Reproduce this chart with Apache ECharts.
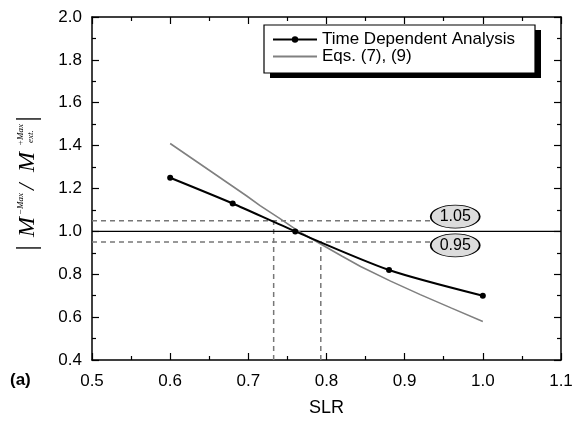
<!DOCTYPE html>
<html><head><meta charset="utf-8">
<script src="https://cdn.jsdelivr.net/npm/echarts@6/dist/echarts.min.js"></script>
<style>html,body{margin:0;padding:0;background:#fff}#c{width:583px;height:422px}</style>
</head><body><div id="c"></div>
<script>
// ---- data ----
var tdSLR   = [0.60, 0.68, 0.76, 0.88, 1.00];
var tdRatio = [1.25, 1.13, 1.00, 0.82, 0.70];
var eqSLR   = [0.600, 0.650, 0.698, 0.715, 0.740, 0.7645, 0.792, 0.820, 0.8436, 0.882, 0.920, 0.960, 1.000];
var eqRatio = [1.410, 1.285, 1.165, 1.120, 1.061, 1.000, 0.942, 0.884, 0.836, 0.768, 0.705, 0.642, 0.580];
var seriesNames = ['Time Dependent Analysis', 'Eqs. (7), (9)'];
var xTicks = [0.5, 0.6, 0.7, 0.8, 0.9, 1.0, 1.1];
var yTicks = [0.4, 0.6, 0.8, 1.0, 1.2, 1.4, 1.6, 1.8, 2.0];
var refLevels = [1.05, 1.00, 0.95];
var crossSLR = [0.7324, 0.7927];
var dashEndSLR = 0.933;
var bubbleLabels = ['1.05', '0.95'];
var bubbleSLR = 0.9647;
var bubbleRatio = [1.069, 0.935];

var chart = echarts.init(document.getElementById('c'), null, {renderer: 'canvas'});
function pairs(xs, ys){ return xs.map(function(x,i){ return [x, ys[i]]; }); }
var ellipsePath = 'path://M0 10 A10 10 0 1 1 20 10 A10 10 0 1 1 0 10 Z';
var sans = 'Liberation Sans';
var axisCommon = {
  min: xTicks[0], max: xTicks[xTicks.length - 1], interval: 0.1,
  axisLine: {lineStyle: {color: '#000', width: 1.5}},
  axisTick: {inside: true, length: 7, lineStyle: {color: '#000', width: 1.2}},
  minorTick: {show: true, splitNumber: 2, length: 4, lineStyle: {color: '#000', width: 1.2}},
  splitLine: {show: false}
};
var yCommon = {
  min: yTicks[0], max: yTicks[yTicks.length - 1], interval: 0.2,
  axisLine: {show: true, lineStyle: {color: '#000', width: 1.5}},
  axisTick: {show: true, inside: true, length: 7, lineStyle: {color: '#000', width: 1.2}},
  minorTick: {show: true, splitNumber: 2, length: 4, lineStyle: {color: '#000', width: 1.2}},
  splitLine: {show: false}
};
var dashStyle = {color: '#777', width: 1.5, type: [5, 4]};
var serif = '"Liberation Serif"';

var option = {
  animation: false,
  backgroundColor: '#fff',
  grid: {left: 92, right: 22, top: 17, bottom: 58, containLabel: false},
  xAxis: [
    Object.assign({type: 'value', position: 'bottom',
      name: 'SLR', nameLocation: 'middle', nameGap: 39,
      nameTextStyle: {fontFamily: sans, fontSize: 18, color: '#000'},
      axisLabel: {fontFamily: sans, fontSize: 17, color: '#000', margin: 13,
        formatter: function(v){ return v.toFixed(1); }}}, axisCommon),
    Object.assign({type: 'value', position: 'top', axisLabel: {show: false}}, axisCommon)
  ],
  yAxis: [
    Object.assign({type: 'value', position: 'left',
      axisLabel: {fontFamily: sans, fontSize: 17, color: '#000', margin: 10,
        formatter: function(v){ return v.toFixed(1); }}}, yCommon),
    Object.assign({type: 'value', position: 'right', axisLabel: {show: false}}, yCommon)
  ],
  legend: {
    data: [
      {name: seriesNames[0]},
      {name: seriesNames[1], itemStyle: {color: 'rgba(0,0,0,0)', borderWidth: 0, opacity: 0}}
    ],
    orient: 'vertical',
    left: 264, top: 25,
    padding: [6, 17, 6, 8],
    itemWidth: 44, itemHeight: 8, itemGap: 0,
    textStyle: {fontFamily: sans, fontSize: 17, color: '#000'}
  },
  series: [
    {type: 'line', name: 'h105', data: pairs([0.5, dashEndSLR], [refLevels[0], refLevels[0]]),
     symbol: 'none', lineStyle: dashStyle, z: 1, silent: true,
     markPoint: {symbol: ellipsePath, symbolSize: [49, 23], symbolKeepAspect: false,
       itemStyle: {color: '#dcdcdc', borderColor: '#000', borderWidth: 1.2},
       label: {show: true, position: 'inside', color: '#000', fontFamily: sans, fontSize: 16,
         formatter: function(p){ return p.name; }},
       data: bubbleLabels.map(function(t, i){ return {name: t, coord: [bubbleSLR, bubbleRatio[i]]}; })}},
    {type: 'line', name: 'h095', data: pairs([0.5, dashEndSLR], [refLevels[2], refLevels[2]]),
     symbol: 'none', lineStyle: dashStyle, z: 1, silent: true},
    {type: 'line', name: 'v1', data: pairs([crossSLR[0], crossSLR[0]], [0.4, refLevels[0]]),
     symbol: 'none', lineStyle: dashStyle, z: 1, silent: true},
    {type: 'line', name: 'v2', data: pairs([crossSLR[1], crossSLR[1]], [0.4, refLevels[2]]),
     symbol: 'none', lineStyle: dashStyle, z: 1, silent: true},
    {type: 'line', name: 'h100', data: pairs([0.5, 1.1], [refLevels[1], refLevels[1]]),
     symbol: 'none', lineStyle: {color: '#000', width: 1.3}, z: 1, silent: true},
    {type: 'line', name: seriesNames[1], data: pairs(eqSLR, eqRatio),
     symbol: 'none', color: '#808080', lineStyle: {color: '#808080', width: 1.6}, z: 3},
    {type: 'line', name: seriesNames[0], data: pairs(tdSLR, tdRatio),
     smooth: 0.25, symbol: 'circle', symbolSize: 6, color: '#000',
     itemStyle: {color: '#000'}, lineStyle: {color: '#000', width: 2}, z: 4}
  ],
  graphic: [
    {type: 'rect', z: 0, shape: {x: 270, y: 30, width: 271, height: 48}, style: {fill: '#000'}},
    {type: 'rect', z: 1, shape: {x: 264, y: 25, width: 271, height: 48}, style: {fill: '#fff', stroke: '#000', lineWidth: 1.2}},
    {type: 'text', left: 10, top: 372, style: {text: '(a)', font: 'bold 17px "Liberation Sans"', fill: '#000'}},
    {type: 'group', x: 28, y: 181, rotation: Math.PI / 2, children: [
      {type: 'text', x: -67, y: 0, style: {text: '|', font: '28px ' + serif, fill: '#000', align: 'center', verticalAlign: 'middle'}},
      {type: 'text', x: -56, y: 0, style: {text: 'M', font: 'italic 24px ' + serif, fill: '#000', align: 'left', verticalAlign: 'middle'}},
      {type: 'text', x: -34, y: -7, style: {text: '\u2212Max', font: 'italic 9px ' + serif, fill: '#000', align: 'left', verticalAlign: 'middle'}},
      {type: 'text', x: -9, y: 0, style: {text: '/', font: 'italic 23px ' + serif, fill: '#000', align: 'left', verticalAlign: 'middle'}},
      {type: 'text', x: 9, y: 0, style: {text: 'M', font: 'italic 24px ' + serif, fill: '#000', align: 'left', verticalAlign: 'middle'}},
      {type: 'text', x: 35, y: -7, style: {text: '+Max', font: 'italic 9px ' + serif, fill: '#000', align: 'left', verticalAlign: 'middle'}},
      {type: 'text', x: 38, y: 3, style: {text: 'ext.', font: 'italic 9px ' + serif, fill: '#000', align: 'left', verticalAlign: 'middle'}},
      {type: 'text', x: 62, y: 0, style: {text: '|', font: '28px ' + serif, fill: '#000', align: 'center', verticalAlign: 'middle'}}
    ]}
  ]
};
chart.setOption(option);
</script></body></html>
